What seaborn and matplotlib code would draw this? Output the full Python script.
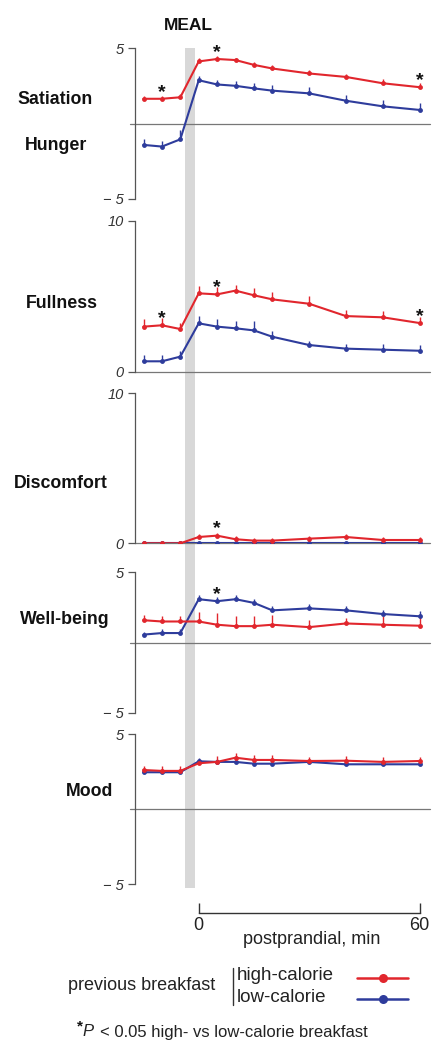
import numpy as np
import pandas as pd
import matplotlib
matplotlib.use("Agg")
import matplotlib.pyplot as plt
from matplotlib.lines import Line2D
import seaborn as sns

# ---------------- data ----------------
times = [-15, -10, -5, 0, 5, 10, 15, 20, 30, 40, 50, 60]
groups = ["high-calorie", "low-calorie"]

sat_high = [1.65, 1.65, 1.75, 4.13, 4.29, 4.22, 3.90, 3.66, 3.33, 3.10, 2.68, 2.42]
sat_low = [-1.41, -1.52, -1.04, 2.88, 2.60, 2.51, 2.34, 2.19, 2.01, 1.52, 1.15, 0.91]
sat_high_err = [0.2, 0.2, 0.2, 0.2, 0.2, 0.15, 0.2, 0.2, 0.2, 0.2, 0.25, 0.25]
sat_low_err = [0.4, 0.4, 0.6, 0.3, 0.3, 0.3, 0.35, 0.4, 0.4, 0.4, 0.4, 0.45]

full_high = [2.99, 3.08, 2.83, 5.20, 5.13, 5.38, 5.07, 4.80, 4.51, 3.69, 3.61, 3.23]
full_low = [0.69, 0.69, 1.00, 3.21, 2.99, 2.88, 2.74, 2.32, 1.77, 1.53, 1.46, 1.39]
full_high_err = [0.5, 0.5, 0.4, 0.5, 0.5, 0.4, 0.5, 0.5, 0.5, 0.4, 0.4, 0.4]
full_low_err = [0.4, 0.4, 0.4, 0.5, 0.5, 0.5, 0.6, 0.4, 0.3, 0.3, 0.4, 0.4]

disc_high = [0.0, 0.0, 0.0, 0.42, 0.51, 0.27, 0.18, 0.18, 0.31, 0.42, 0.22, 0.22]
disc_low = [0.0, 0.0, 0.0, 0.0, 0.0, 0.0, 0.0, 0.0, 0.0, 0.0, 0.0, 0.0]
disc_high_err = [0.05, 0.05, 0.05, 0.2, 0.2, 0.2, 0.2, 0.2, 0.2, 0.2, 0.2, 0.2]
disc_low_err = [0.05] * 12

well_high = [1.58, 1.49, 1.49, 1.49, 1.26, 1.16, 1.16, 1.26, 1.09, 1.35, 1.26, 1.19]
well_low = [0.56, 0.67, 0.67, 3.07, 2.93, 3.07, 2.81, 2.28, 2.42, 2.28, 2.02, 1.86]
well_high_err = [0.4, 0.4, 0.4, 0.7, 0.8, 0.7, 0.7, 0.7, 0.5, 0.4, 0.6, 0.6]
well_low_err = [0.2, 0.3, 0.3, 0.3, 0.3, 0.3, 0.3, 0.3, 0.3, 0.3, 0.3, 0.4]

mood_high = [2.62, 2.56, 2.56, 3.07, 3.16, 3.44, 3.29, 3.29, 3.22, 3.24, 3.16, 3.22]
mood_low = [2.47, 2.47, 2.47, 3.20, 3.16, 3.16, 3.04, 3.04, 3.16, 3.00, 3.00, 3.00]
mood_high_err = [0.3, 0.3, 0.3, 0.3, 0.4, 0.3, 0.3, 0.3, 0.3, 0.3, 0.3, 0.3]
mood_low_err = [0.2] * 12

# star (P<0.05) time points per panel
sat_stars = [-10, 5, 60]
full_stars = [-10, 5, 60]
disc_stars = [5]
well_stars = [5]
mood_stars = []

panel_labels = [["Satiation", "Hunger"], ["Fullness"], ["Discomfort"], ["Well-being"], ["Mood"]]
y_limits = [(-5, 5), (0, 10), (0, 10), (-5, 5), (-5, 5)]
y_ticklabels = [["\u2212 5", "5"], ["0", "10"], ["0", "10"], ["\u2212 5", "5"], ["\u2212 5", "5"]]

# ---------------- style ----------------
sns.set_style("white")
plt.rcParams["font.family"] = ["Liberation Sans", "DejaVu Sans"]

RED = "#e1262d"
BLUE = "#2e3c9c"
palette = {"high-calorie": RED, "low-calorie": BLUE}

W, H = 433, 1042
fig = plt.figure(figsize=(W / 100, H / 100), dpi=100)


def rect(x0, x1, y0, y1):
    return [x0 / W, 1 - y1 / H, (x1 - x0) / W, (y1 - y0) / H]


XL, XR = 134.5, 430.0
XLIM = (-17.45, 62.85)

# meal band spanning all panels
bg = fig.add_axes(rect(XL, XR, 48, 888))
bg.set_xlim(*XLIM)
bg.set_ylim(0, 1)
bg.axvspan(-3.6, -0.9, color="#d8d8d8", lw=0)
bg.axis("off")

panel_rows = [(48.3, 199.0), (221.0, 371.7), (393.3, 543.3), (572.0, 713.0), (734.3, 884.3)]
series = [
    (sat_high, sat_low, sat_high_err, sat_low_err, sat_stars),
    (full_high, full_low, full_high_err, full_low_err, full_stars),
    (disc_high, disc_low, disc_high_err, disc_low_err, disc_stars),
    (well_high, well_low, well_high_err, well_low_err, well_stars),
    (mood_high, mood_low, mood_high_err, mood_low_err, mood_stars),
]
label_pos = [[(17, 100), (25, 146)], [(26, 304)], [(14, 483)], [(20, 620)], [(66, 791)]]

for i, ((top, bot), (hi, lo, hie, loe, stars)) in enumerate(zip(panel_rows, series)):
    ax = fig.add_axes(rect(XL, XR, top, bot))
    ax.patch.set_alpha(0)
    df = pd.DataFrame({
        "time": times * 2,
        "value": hi + lo,
        "group": [groups[0]] * len(times) + [groups[1]] * len(times),
    })
    # low first so high-calorie sits on top
    order = [groups[1], groups[0]]
    for g in order:
        sub = df[df["group"] == g]
        err = np.array(hie if g == groups[0] else loe)
        ax.vlines(sub["time"], sub["value"], sub["value"] + err, color=palette[g], lw=1.0, zorder=3)
        sns.lineplot(data=sub, x="time", y="value", color=palette[g], marker="o",
                     markersize=3.5, markeredgewidth=0, linewidth=1.5, ax=ax,
                     legend=False, errorbar=None, zorder=4)
    ymin, ymax = y_limits[i]
    ax.set_xlim(*XLIM)
    ax.set_ylim(ymin, ymax)
    ax.axhline(0, xmin=-0.015 if ymin < 0 else 0, xmax=1, color="#777777", lw=0.9,
               clip_on=False, zorder=1)
    for s in ["top", "right", "bottom"]:
        ax.spines[s].set_visible(False)
    ax.spines["left"].set_color("#555555")
    ax.spines["left"].set_linewidth(0.9)
    ax.set_yticks([ymin, ymax])
    ax.set_yticklabels(y_ticklabels[i], fontsize=10.5, style="italic", color="#333333")
    ax.tick_params(axis="y", direction="out", length=5, width=0.9, color="#555555", pad=3, left=True)
    ax.set_xticks([])
    ax.set_xlabel("")
    ax.set_ylabel("")
    for t in stars:
        k = times.index(t)
        yv = max(hi[k], lo[k])
        ax.annotate("*", xy=(t, yv), xytext=(0, 1.5), textcoords="offset points",
                    ha="center", va="baseline", fontsize=14, fontweight="bold", color="#111111")
    for lab, (px, py) in zip(panel_labels[i], label_pos[i]):
        fig.text(px / W, 1 - py / H, lab, ha="left", va="center", fontsize=12.8,
                 fontweight="bold", color="#111111")

fig.text(188 / W, 1 - 25 / H, "MEAL", ha="center", va="center", fontsize=12.5,
         fontweight="bold", color="#111111")

# bottom time bracket
axb = fig.add_axes(rect(XL, XR, 903, 913))
axb.patch.set_alpha(0)
axb.set_xlim(*XLIM)
for s in ["top", "right", "left"]:
    axb.spines[s].set_visible(False)
axb.spines["bottom"].set_bounds(0, 60)
axb.spines["bottom"].set_color("#333333")
axb.spines["bottom"].set_linewidth(1.0)
axb.set_yticks([])
axb.set_xticks([0, 60])
axb.set_xticklabels(["0", "60"], fontsize=13, color="#222222")
axb.tick_params(axis="x", direction="in", length=7.2, width=1.0, color="#333333", pad=3, bottom=True)
fig.text(312 / W, 1 - 939 / H, "postprandial, min", ha="center", va="center", fontsize=13, color="#222222")

# legend
fig.text(68 / W, 1 - 986 / H, "previous breakfast", ha="left", va="center", fontsize=13, color="#222222")
fig.add_artist(Line2D([233 / W, 233 / W], [1 - 968 / H, 1 - 1005 / H], color="#333333", lw=1.0,
                      transform=fig.transFigure))
fig.text(237 / W, 1 - 976 / H, "high-calorie", ha="left", va="center", fontsize=13.5, color="#222222")
fig.text(237 / W, 1 - 997 / H, "low-calorie", ha="left", va="center", fontsize=13.5, color="#222222")
for g, yy in zip(groups, [978, 999]):
    fig.add_artist(Line2D([357 / W, 408 / W], [1 - yy / H, 1 - yy / H], color=palette[g], lw=1.8,
                          transform=fig.transFigure))
    fig.add_artist(Line2D([383 / W], [1 - yy / H], color=palette[g], marker="o", markersize=6.5,
                          markeredgewidth=0, transform=fig.transFigure))

# footnote built from plain text pieces
foot_y = 1 - 1036.5 / H
fig.text(77 / W, 1 - 1030 / H, "*", ha="left", va="baseline", fontsize=11, fontweight="bold", color="#111111")
fig.text(82 / W, foot_y, "P", ha="left", va="baseline", fontsize=12, style="italic", color="#222222")
fig.text(100 / W, foot_y, "< 0.05 high- vs low-calorie breakfast", ha="left", va="baseline",
         fontsize=12, color="#222222")

fig.savefig("out.png", dpi=100)
